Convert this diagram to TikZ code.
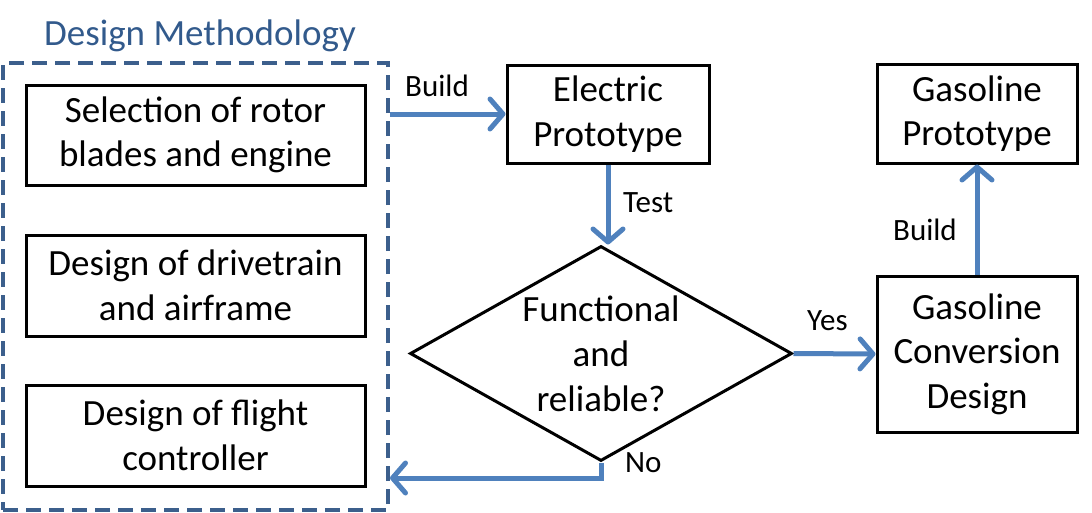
\documentclass[tikz,border=0pt]{standalone}
\usepackage{fontspec}
\setmainfont{Carlito}
\usepackage{tikz}
\usetikzlibrary{shapes.geometric, arrows.meta, positioning, calc}
\definecolor{FlowBlue}{HTML}{4F81BD}
\definecolor{FrameBlue}{HTML}{3C5F8C}
\definecolor{TitleBlue}{HTML}{325A8C}

\begin{document}
\begin{tikzpicture}[x=1pt, y=-1pt,
    stepbox/.style={draw=black, line width=3pt, align=center, inner sep=0pt,
                    font=\fontsize{37}{44.5}\selectfont},
    decision/.style={draw=black, line width=3pt, diamond, inner sep=0pt,
                     minimum width=382pt, minimum height=215pt},
    flow/.style={draw=FlowBlue, line width=5pt,
                 -{Straight Barb[length=13pt, width=30pt, line cap=round, line join=round]}},
    tag/.style={inner sep=0pt, font=\fontsize{31}{36}\selectfont}]
    \useasboundingbox (0,0) rectangle (1092,512);

    % Design methodology frame
    \node[draw=FrameBlue, line width=4pt, dash pattern=on 15pt off 8pt,
          minimum width=385pt, minimum height=447pt] (method) at (195.5,286.5) {};
    \node[TitleBlue, anchor=base, inner sep=0pt, font=\fontsize{37}{44}\selectfont]
        (methodtitle) at (200,45) {Design Methodology};

    % Steps inside the frame
    \node[stepbox, minimum width=339pt, minimum height=100pt] (rotor) at (195.5,135)
        {Selection of rotor\\blades and engine};
    \node[stepbox, minimum width=339pt, minimum height=101pt] (drive) at (195.5,285.5)
        {Design of drivetrain\\and airframe};
    \node[stepbox, minimum width=339pt, minimum height=101pt] (ctrl) at (195.5,435.5)
        {Design of flight\\controller};

    % Prototypes and test
    \node[stepbox, minimum width=202pt, minimum height=98pt] (elec) at (608,114)
        {Electric\\Prototype};
    \node[decision] (check) at (601,353.5) {};
    \node[align=center, inner sep=0pt, font=\fontsize{37}{45}\selectfont]
        (checktext) at (check.center) {Functional\\and\\reliable?};
    \node[stepbox, minimum width=200pt, minimum height=156pt] (conv) at (977,354)
        {Gasoline\\Conversion\\Design};
    \node[stepbox, minimum width=200pt, minimum height=99pt] (gproto) at (977,113.5)
        {Gasoline\\Prototype};

    % Connectors
    \coordinate (nobend) at (601,478);
    \draw[flow] (method.east |- elec.west) -- (elec.west);
    \draw[flow] (elec.south) -- (elec.south |- check.north);
    \draw[flow] (check.east) -- (conv.west);
    \draw[flow] (conv.north) -- (gproto.south);
    \draw[flow] (check.south) -- (nobend) -- (method.east |- nobend);

    % Connector labels
    \node[tag, anchor=base west] (buildlbl) at (405,96) {Build};
    \node[tag, anchor=base west] (testlbl) at (623,212) {Test};
    \node[tag, anchor=base west] (yeslbl) at (807,330) {Yes};
    \node[tag, anchor=base west] (nolbl) at (625,472) {No};
    \node[tag, anchor=base east] (build2lbl) at (957,240) {Build};
\end{tikzpicture}
\end{document}
